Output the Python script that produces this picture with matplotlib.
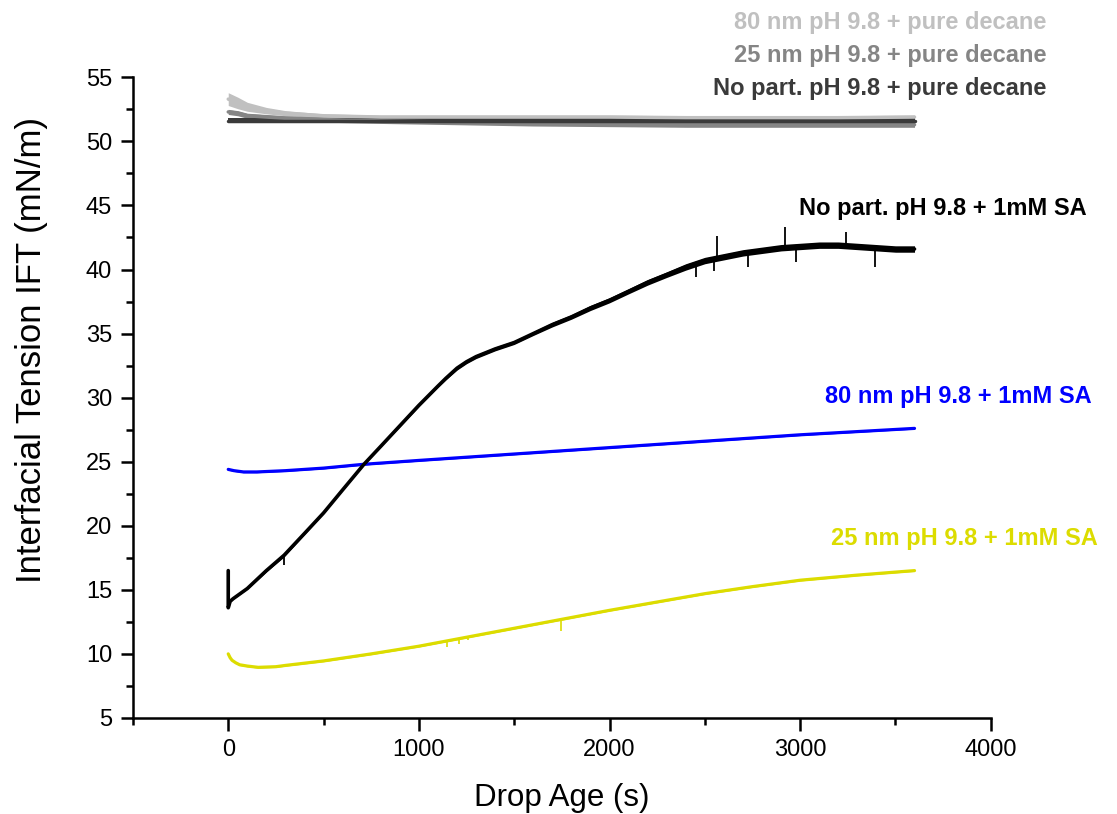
import numpy as np
import matplotlib
matplotlib.use("Agg")
import matplotlib.pyplot as plt
from matplotlib.ticker import MultipleLocator

plt.rcParams['font.family'] = ['Liberation Sans', 'DejaVu Sans']

# ---- data: drop age (s) vs interfacial tension (mN/m) ----
# No particles, pH 9.8 + 1 mM stearic acid
t_np_sa = [0, 0, 10, 25, 100, 150, 200, 293, 400, 500, 600, 712, 800, 900, 1000,
           1100, 1141, 1200, 1250, 1300, 1350, 1400, 1500, 1600, 1700, 1800, 1900,
           2000, 2100, 2200, 2300, 2400, 2500, 2600, 2700, 2800, 2900, 3000, 3100,
           3200, 3300, 3400, 3500, 3600]
ift_np_sa = [16.5, 13.6, 14.1, 14.3, 15.1, 15.8, 16.5, 17.7, 19.4, 21.0, 22.8, 24.8,
             26.2, 27.8, 29.4, 30.9, 31.5, 32.3, 32.8, 33.2, 33.5, 33.8, 34.3, 35.0,
             35.7, 36.3, 37.0, 37.6, 38.3, 39.0, 39.6, 40.2, 40.7, 41.0, 41.3, 41.5,
             41.7, 41.8, 41.9, 41.9, 41.8, 41.7, 41.6, 41.6]
noise_np_sa = [0.0, 0.0, 0.05, 0.05, 0.05, 0.08, 0.1, 0.12, 0.08, 0.05, 0.05, 0.05,
               0.05, 0.08, 0.1, 0.1, 0.12, 0.15, 0.15, 0.15, 0.15, 0.15, 0.15, 0.15,
               0.18, 0.18, 0.2, 0.2, 0.2, 0.22, 0.22, 0.25, 0.25, 0.25, 0.25, 0.25,
               0.25, 0.25, 0.25, 0.25, 0.25, 0.25, 0.25, 0.25]
spikes_np_sa_t = [293, 2455, 2550, 2565, 2728, 2921, 2979, 3240, 3393]
spikes_np_sa_v = [16.9, 39.4, 39.9, 42.6, 40.2, 43.3, 40.6, 42.9, 40.2]

# 80 nm particles, pH 9.8 + 1 mM SA
t_80_sa = [0, 30, 80, 150, 300, 500, 712, 1000, 1500, 2000, 2500, 3000, 3600]
ift_80_sa = [24.4, 24.3, 24.2, 24.2, 24.3, 24.5, 24.8, 25.1, 25.6, 26.1, 26.6, 27.1, 27.6]

# 25 nm particles, pH 9.8 + 1 mM SA
t_25_sa = [0, 10, 20, 40, 60, 100, 157, 250, 300, 500, 750, 1000, 1250, 1500, 1750,
           2000, 2250, 2500, 2750, 3000, 3300, 3600]
ift_25_sa = [10.0, 9.7, 9.5, 9.3, 9.15, 9.05, 8.95, 9.0, 9.1, 9.45, 10.0, 10.6, 11.3,
             12.0, 12.7, 13.4, 14.05, 14.7, 15.25, 15.75, 16.15, 16.5]
spikes_25_sa_t = [1150, 1210, 1257, 1300, 1743]
spikes_25_sa_v = [10.5, 10.8, 11.1, 11.4, 11.8]

# pure decane references
t_dec = [0, 50, 100, 200, 300, 500, 800, 1200, 1600, 2000, 2400, 2800, 3200, 3600]
ift_80_dec = [53.3, 53.0, 52.7, 52.4, 52.2, 52.0, 51.9, 51.9, 51.9, 51.9, 51.85, 51.85, 51.85, 51.9]
ift_25_dec = [52.3, 52.2, 52.0, 51.9, 51.8, 51.7, 51.6, 51.5, 51.4, 51.35, 51.3, 51.3, 51.3, 51.3]
ift_np_dec = [51.6, 51.6, 51.6, 51.6, 51.6, 51.6, 51.6, 51.6, 51.6, 51.6, 51.6, 51.6, 51.6, 51.6]
noise_80_dec = [0.5, 0.45, 0.35, 0.25, 0.2, 0.15, 0.15, 0.15, 0.15, 0.15, 0.15, 0.15, 0.15, 0.15]
noise_dec = [0.2] * len(t_dec)

labels = ["80 nm pH 9.8 + pure decane", "25 nm pH 9.8 + pure decane",
          "No part. pH 9.8 + pure decane", "No part. pH 9.8 + 1mM SA",
          "80 nm pH 9.8 + 1mM SA", "25 nm pH 9.8 + 1mM SA"]

c_light, c_mid, c_dark = '#c0c0c0', '#858585', '#3a3a3a'
c_black, c_blue, c_yellow = '#000000', '#0000ff', '#dcdc00'

fig = plt.figure(figsize=(11.17, 8.14), dpi=100)
ax = fig.add_axes([0.119, 0.118, 0.768, 0.787])


def band(t, v, n, color, lw):
    t = np.asarray(t, float); v = np.asarray(v, float); n = np.asarray(n, float)
    ax.fill_between(t, v - n, v + n, color=color, lw=0)
    ax.plot(t, v, color=color, lw=lw, solid_joinstyle='round', solid_capstyle='round')


band(t_dec, ift_80_dec, noise_80_dec, c_light, 2.5)
band(t_dec, ift_25_dec, noise_dec, c_mid, 2.5)
band(t_dec, ift_np_dec, noise_dec, c_dark, 2.5)

band(t_80_sa, ift_80_sa, [0.06] * len(t_80_sa), c_blue, 2.3)
band(t_25_sa, ift_25_sa, [0.06] * len(t_25_sa), c_yellow, 2.3)
ax.vlines(spikes_25_sa_t, spikes_25_sa_v,
          np.interp(spikes_25_sa_t, t_25_sa, ift_25_sa), color=c_yellow, lw=1.2)

band(t_np_sa, ift_np_sa, noise_np_sa, c_black, 2.6)
ax.vlines(spikes_np_sa_t, spikes_np_sa_v,
          np.interp(spikes_np_sa_t, t_np_sa, ift_np_sa), color=c_black, lw=1.3)

ax.set_xlim(-500, 4000)
ax.set_ylim(5, 55)
ax.xaxis.set_major_locator(MultipleLocator(1000))
ax.xaxis.set_minor_locator(MultipleLocator(500))
ax.yaxis.set_major_locator(MultipleLocator(5))
ax.yaxis.set_minor_locator(MultipleLocator(2.5))

for s in ['top', 'right']:
    ax.spines[s].set_visible(False)
for s in ['left', 'bottom']:
    ax.spines[s].set_linewidth(1.8)
ax.tick_params(which='major', direction='out', length=9, width=1.8, labelsize=17, pad=6)
ax.tick_params(which='minor', direction='out', length=5, width=1.8)

ax.set_xlabel("Drop Age (s)", fontsize=22.5, labelpad=16)
ax.set_ylabel("Interfacial Tension IFT (mN/m)", fontsize=25, labelpad=27)
ax.yaxis.label.set_y(0.574)

txt = dict(ha='right', va='center', fontsize=17, fontweight='bold', clip_on=False)
ax.text(4293, 59.3, labels[0], color=c_light, **txt)
ax.text(4293, 56.7, labels[1], color=c_mid, **txt)
ax.text(4293, 54.1, labels[2], color=c_dark, **txt)
ax.text(4503, 44.8, labels[3], color=c_black, **txt)
ax.text(4529, 30.1, labels[4], color=c_blue, **txt)
ax.text(4560, 19.0, labels[5], color=c_yellow, **txt)

fig.savefig("out.png", dpi=100)
